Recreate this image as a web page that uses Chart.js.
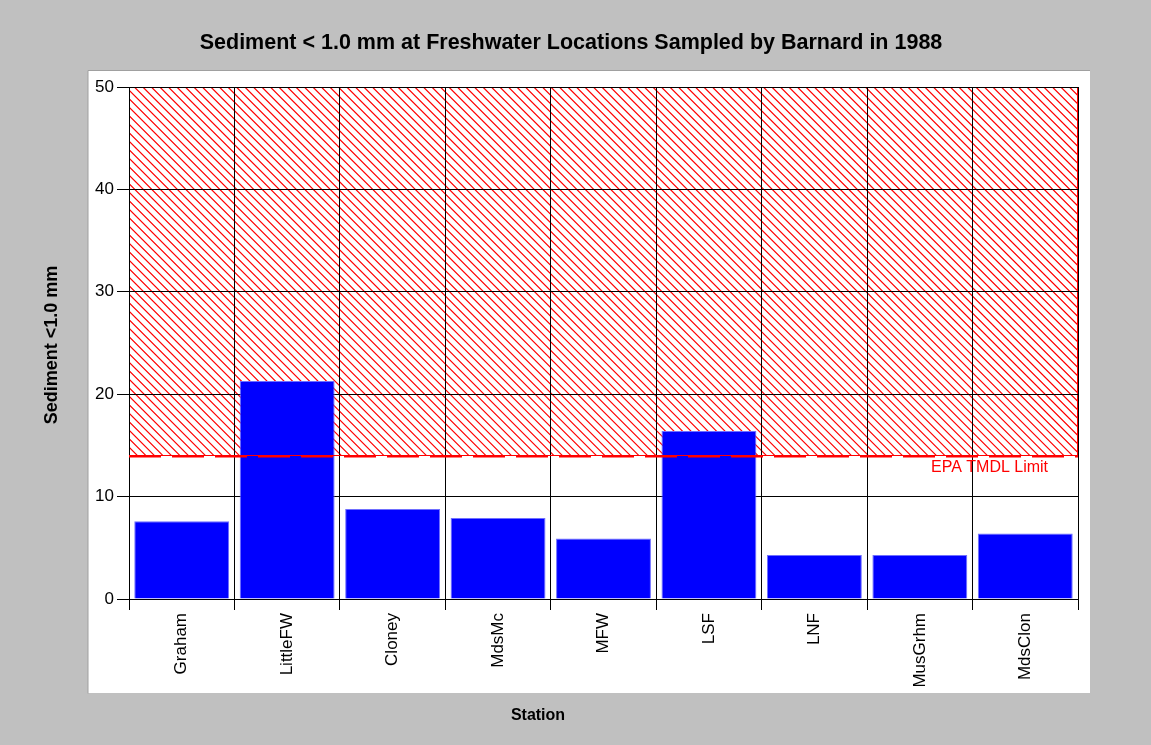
<!DOCTYPE html>
<html>
<head>
<meta charset="utf-8">
<script src="https://cdn.jsdelivr.net/npm/chart.js@4.4.1/dist/chart.umd.min.js"></script>
<style>
  html, body { margin: 0; padding: 0; background: #c0c0c0; }
  #wrap { width: 1151px; height: 745px; }
</style>
</head>
<body>
<div id="wrap"><canvas id="chart" width="1151" height="745"></canvas></div>
<script>
const stations = ['Graham', 'LittleFW', 'Cloney', 'MdsMc', 'MFW', 'LSF', 'LNF', 'MusGrhm', 'MdsClon'];
const sediment = [7.6, 21.3, 8.8, 7.9, 5.9, 16.4, 4.3, 4.3, 6.4];
const yTicks = [0, 10, 20, 30, 40, 50];
const tmdlLimit = 14;
const yMax = 50;

const FONT = 'Arial, "Liberation Sans", sans-serif';

// background, white panel and hatched area above the limit
const backdrop = {
    id: 'backdrop',
    beforeDraw(chart) {
        const ctx = chart.ctx;
        const a = chart.chartArea;
        const y = chart.scales.y;
        ctx.save();
        ctx.fillStyle = '#c0c0c0';
        ctx.fillRect(0, 0, chart.width, chart.height);
        ctx.fillStyle = '#ffffff';
        ctx.fillRect(a.left - 41, a.top - 17, (a.right + 12) - (a.left - 41), (a.bottom + 94) - (a.top - 17));
        ctx.strokeStyle = '#a0a0a0';
        ctx.lineWidth = 1;
        ctx.beginPath();
        ctx.moveTo(a.left - 41, a.bottom + 94.5);
        ctx.lineTo(a.left - 41, a.top - 16.5);
        ctx.lineTo(a.right + 12, a.top - 16.5);
        ctx.stroke();

        const top = y.getPixelForValue(yMax);
        const bot = y.getPixelForValue(tmdlLimit);
        ctx.beginPath();
        ctx.rect(a.left, top, a.right - a.left, bot - top);
        ctx.clip();
        ctx.strokeStyle = '#ff0000';
        ctx.lineWidth = 1.15;
        ctx.beginPath();
        const h = bot - top;
        for (let x = a.left - h; x < a.right; x += 8.5) {
            ctx.moveTo(x, top);
            ctx.lineTo(x + h, bot);
        }
        ctx.stroke();
        ctx.restore();

        ctx.save();
        ctx.strokeStyle = '#ff0000';
        ctx.lineWidth = 2;
        ctx.beginPath();
        ctx.moveTo(a.right, top);
        ctx.lineTo(a.right, bot);
        ctx.stroke();
        ctx.restore();
    }
};

// dashed limit line, its label and the axis titles
const limitLine = {
    id: 'limitLine',
    afterDatasetsDraw(chart) {
        const ctx = chart.ctx;
        const a = chart.chartArea;
        const yy = Math.round(chart.scales.y.getPixelForValue(tmdlLimit)) + 0.5;
        ctx.save();
        ctx.strokeStyle = '#ff0000';
        ctx.lineWidth = 1;
        ctx.beginPath();
        ctx.moveTo(a.left, yy - 1);
        ctx.lineTo(a.right, yy - 1);
        ctx.stroke();
        ctx.lineWidth = 2;
        ctx.setLineDash([32, 11]);
        ctx.beginPath();
        ctx.moveTo(a.left, yy);
        ctx.lineTo(a.right, yy);
        ctx.stroke();
        ctx.setLineDash([]);
        ctx.fillStyle = '#ff0000';
        ctx.font = '16px ' + FONT;
        ctx.textAlign = 'left';
        ctx.textBaseline = 'middle';
        ctx.fillText('EPA TMDL Limit', a.right - 147, yy + 11);

        ctx.fillStyle = '#000000';
        ctx.font = 'bold 16px ' + FONT;
        ctx.textAlign = 'center';
        ctx.fillText('Station', 538, 716);

        ctx.translate(52, 345);
        ctx.rotate(-Math.PI / 2);
        ctx.font = 'bold 18px ' + FONT;
        ctx.fillText('Sediment <1.0 mm', 0, 0);
        ctx.restore();
    }
};

const ctx = document.getElementById('chart').getContext('2d');
new Chart(ctx, {
    type: 'bar',
    data: {
        labels: stations,
        datasets: [{
            label: 'Sediment <1.0 mm',
            data: sediment,
            backgroundColor: '#0000ff',
            borderColor: '#6f6fff',
            borderWidth: 1,
            barPercentage: 0.9,
            categoryPercentage: 1.0
        }]
    },
    options: {
        responsive: false,
        animation: false,
        layout: { padding: { left: 64, right: 73, top: 0, bottom: 0 } },
        plugins: {
            legend: { display: false },
            tooltip: { enabled: false },
            title: {
                display: true,
                text: 'Sediment < 1.0 mm at Freshwater Locations Sampled by Barnard in 1988',
                color: '#000000',
                font: { family: FONT, size: 21.5, weight: 'bold' },
                padding: { top: 30, bottom: 31.2 }
            }
        },
        scales: {
            x: {
                offset: true,
                grid: { color: '#000000', lineWidth: 1, offset: true, tickLength: 11 },
                border: { color: '#000000', width: 1 },
                ticks: {
                    color: '#000000',
                    font: { family: FONT, size: 17 },
                    minRotation: 90,
                    maxRotation: 90,
                    autoSkip: false,
                    padding: 3
                },
                afterFit(scale) { scale.height = 146; }
            },
            y: {
                min: 0,
                max: yMax,
                afterBuildTicks(scale) { scale.ticks = yTicks.map(v => ({ value: v })); },
                grid: { color: '#000000', lineWidth: 1, tickLength: 12 },
                border: { color: '#000000', width: 1 },
                ticks: {
                    color: '#000000',
                    font: { family: FONT, size: 17 },
                    padding: 3
                },
                afterFit(scale) { scale.width = 65; }
            }
        }
    },
    plugins: [backdrop, limitLine]
});
</script>
</body>
</html>
